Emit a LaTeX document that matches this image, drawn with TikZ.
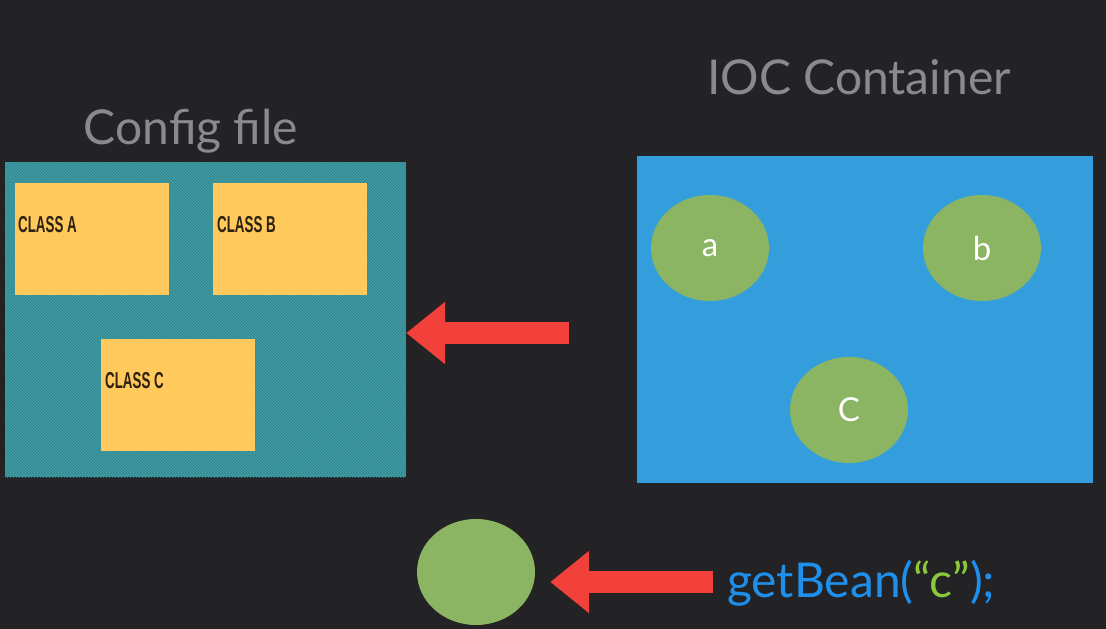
\documentclass[tikz,border=0pt]{standalone}
\usepackage{fontspec}
\setmainfont{Lato}
\newfontfamily\classfont[FakeStretch=0.58]{Liberation Sans}
\usetikzlibrary{arrows.meta,patterns,positioning,shapes.geometric}

\definecolor{bgdark}{RGB}{35,34,36}
\definecolor{titlegray}{RGB}{138,138,140}
\definecolor{teal}{RGB}{64,156,164}
\definecolor{tealline}{RGB}{46,128,138}
\definecolor{classyellow}{RGB}{255,201,92}
\definecolor{classtext}{RGB}{45,33,18}
\definecolor{iocblue}{RGB}{52,158,221}
\definecolor{beangreen}{RGB}{139,181,99}
\definecolor{arrowred}{RGB}{242,64,58}
\definecolor{callblue}{RGB}{30,144,236}
\definecolor{quotegreen}{RGB}{140,200,60}

\begin{document}
\begin{tikzpicture}[x=1pt,y=-1pt,
  title/.style={text=titlegray, font=\fontsize{48}{56}\selectfont},
  classbox/.style={fill=classyellow, minimum width=154pt, minimum height=112pt, inner sep=0pt},
  classlabel/.style={anchor=west, text=classtext, inner sep=0pt, font=\classfont\bfseries\fontsize{23}{26}\selectfont},
  bean/.style={ellipse, fill=beangreen, minimum width=118pt, minimum height=106pt, inner sep=0pt,
    text=white, font=\fontsize{33}{38}\selectfont},
  bigarrow/.style={draw=arrowred, line width=22pt, -{Triangle[length=39pt,width=60pt]}}
]
  \fill[bgdark] (0,0) rectangle (1106,629);
  \useasboundingbox (0,0) rectangle (1106,629);

  % config file
  \node[title] (cfgtitle) at (191,131) {Config file};
  \node[fill=teal, minimum width=401pt, minimum height=315pt, inner sep=0pt,
    postaction={pattern=north west lines, pattern color=tealline}] (config) at (205.5,319.5) {};
  \node[classbox] (clsA) at (91.5,239) {};
  \node[classbox] (clsB) at (290,239) {};
  \node[classbox] (clsC) at (178,394.5) {};
  \node[classlabel] at (18,225) {CLASS A};
  \node[classlabel] at (217,225) {CLASS B};
  \node[classlabel] at (105,381) {CLASS C};

  % ioc container
  \node[title] (ioctitle) at (859,77) {IOC Container};
  \node[fill=iocblue, minimum width=456pt, minimum height=327pt, inner sep=0pt] (ioc) at (865,319.5) {};
  \node[bean] (beanA) at (710,248) {a};
  \node[bean] (beanB) at (982,248) {b};
  \node[bean] (beanC) at (849,410) {C};

  \coordinate (tail1) at (569,333);
  \draw[bigarrow] (tail1) -- (tail1 -| config.east);

  % getBean
  \node[bean] (found) at (476,572) {};
  \node[anchor=base west, inner sep=0pt, font=\fontsize{48}{56}\selectfont] (call) at (727,597)
    {\color{callblue}getBean(\textcolor{quotegreen}{“c”});};
  \coordinate (tail2) at (713,582);
  \draw[bigarrow] (tail2) -- ([xshift=15pt]found.east |- tail2);
\end{tikzpicture}
\end{document}
